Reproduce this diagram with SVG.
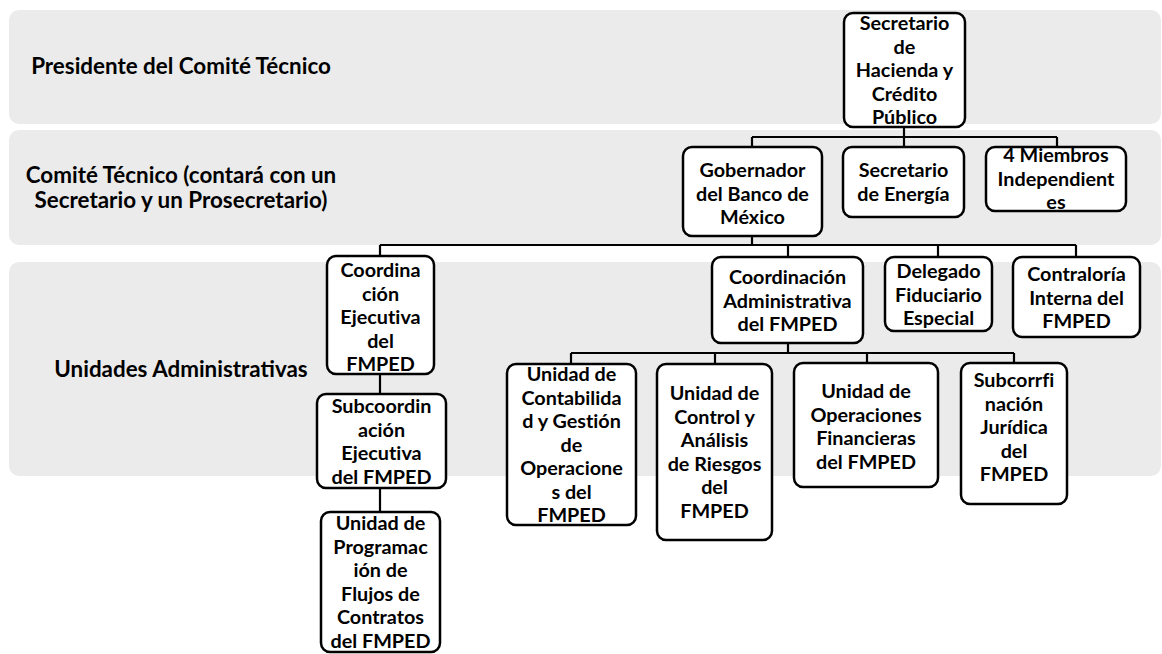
<svg xmlns="http://www.w3.org/2000/svg" width="1162" height="654" viewBox="0 0 1162 654">
<style>
.band{fill:#ebebeb;}
.box{fill:#fff;stroke:#000;stroke-width:2.5;}
.lbl{font-family:Lato,"Liberation Sans",sans-serif;font-weight:bold;font-size:22.4px;fill:#000;text-anchor:middle;}
.t{font-family:Lato,"Liberation Sans",sans-serif;font-weight:bold;font-size:19.8px;fill:#000;text-anchor:middle;font-variant-ligatures:none;}
.con{fill:none;stroke:#000;stroke-width:2.2;}
</style>
<rect width="1162" height="654" fill="#fff"/>
<g id="bands">
<rect class="band" x="9" y="10" width="1152" height="114" rx="10"/>
<rect class="band" x="9" y="130" width="1152" height="115" rx="10"/>
<rect class="band" x="9" y="262" width="1152" height="214" rx="10"/>
<text class="lbl" x="181" y="74">Presidente del Comité Técnico</text>
<text class="lbl" x="181" y="183">Comité Técnico (contará con un</text>
<text class="lbl" x="181" y="208">Secretario y un Prosecretario)</text>
<text class="lbl" x="181" y="377">Unidades Administrativas</text>
</g>
<g id="connectors">
<path class="con" d="M904 127V137M752 137H1057M752 137V147M904 137V147M1057 137V147"/>
<path class="con" d="M752 236V245M380 245H1076M380 245V256M788 245V257M938 245V257M1076 245V257"/>
<path class="con" d="M380 374V394M380 488V512"/>
<path class="con" d="M788 343V353M571 353H1014M571 353V364M715 353V364M867 353V363M1014 353V363"/>
</g>
<g id="hacienda"><rect class="box" x="844" y="13" width="121" height="114" rx="9"/>
<text class="t" x="904.5" y="30">Secretario<tspan x="904.5" dy="23.5">de</tspan><tspan x="904.5" dy="23.5">Hacienda y</tspan><tspan x="904.5" dy="23.5">Crédito</tspan><tspan x="904.5" dy="23.5">Público</tspan></text></g>
<g id="gobernador"><rect class="box" x="683" y="147" width="139" height="89" rx="9"/>
<text class="t" x="752.5" y="177">Gobernador<tspan x="752.5" dy="23.5">del Banco de</tspan><tspan x="752.5" dy="23.5">México</tspan></text></g>
<g id="energia"><rect class="box" x="843" y="147" width="121" height="70" rx="9"/>
<text class="t" x="903.5" y="177">Secretario<tspan x="903.5" dy="23.5">de Energía</tspan></text></g>
<g id="miembros"><rect class="box" x="986" y="147" width="140" height="64" rx="9"/>
<text class="t" x="1056" y="162">4 Miembros<tspan x="1056" dy="23.5">Independient</tspan><tspan x="1056" dy="23.5">es</tspan></text></g>
<g id="coordEjecutiva"><rect class="box" x="327" y="256" width="107" height="118" rx="9"/>
<text class="t" x="380.5" y="277">Coordina<tspan x="380.5" dy="23.5">ción</tspan><tspan x="380.5" dy="23.5">Ejecutiva</tspan><tspan x="380.5" dy="23.5">del</tspan><tspan x="380.5" dy="23.5">FMPED</tspan></text></g>
<g id="subcoordinacion"><rect class="box" x="317" y="394" width="129" height="94" rx="9"/>
<text class="t" x="381.5" y="413">Subcoordin<tspan x="381.5" dy="23.5">ación</tspan><tspan x="381.5" dy="23.5">Ejecutiva</tspan><tspan x="381.5" dy="23.5">del FMPED</tspan></text></g>
<g id="programacion"><rect class="box" x="321" y="512" width="119" height="140" rx="9"/>
<text class="t" x="380.5" y="530">Unidad de<tspan x="380.5" dy="23.5">Programac</tspan><tspan x="380.5" dy="23.5">ión de</tspan><tspan x="380.5" dy="23.5">Flujos de</tspan><tspan x="380.5" dy="23.5">Contratos</tspan><tspan x="380.5" dy="23.5">del FMPED</tspan></text></g>
<g id="coordAdministrativa"><rect class="box" x="712" y="257" width="151" height="86" rx="9"/>
<text class="t" x="787.5" y="284">Coordinación<tspan x="787.5" dy="23.5">Administrativa</tspan><tspan x="787.5" dy="23.5">del FMPED</tspan></text></g>
<g id="delegado"><rect class="box" x="885" y="257" width="107" height="74" rx="9"/>
<text class="t" x="938.5" y="278">Delegado<tspan x="938.5" dy="23.5">Fiduciario</tspan><tspan x="938.5" dy="23.5">Especial</tspan></text></g>
<g id="contraloria"><rect class="box" x="1013" y="257" width="127" height="80" rx="9"/>
<text class="t" x="1076.5" y="281">Contraloría<tspan x="1076.5" dy="23.5">Interna del</tspan><tspan x="1076.5" dy="23.5">FMPED</tspan></text></g>
<g id="contabilidad"><rect class="box" x="507" y="364" width="129" height="161" rx="9"/>
<text class="t" x="571.5" y="381">Unidad de<tspan x="571.5" dy="23.5">Contabilida</tspan><tspan x="571.5" dy="23.5">d y Gestión</tspan><tspan x="571.5" dy="23.5">de</tspan><tspan x="571.5" dy="23.5">Operacione</tspan><tspan x="571.5" dy="23.5">s del</tspan><tspan x="571.5" dy="23.5">FMPED</tspan></text></g>
<g id="controlRiesgos"><rect class="box" x="657" y="364" width="115" height="176" rx="9"/>
<text class="t" x="714.5" y="400">Unidad de<tspan x="714.5" dy="23.5">Control y</tspan><tspan x="714.5" dy="23.5">Análisis</tspan><tspan x="714.5" dy="23.5">de Riesgos</tspan><tspan x="714.5" dy="23.5">del</tspan><tspan x="714.5" dy="23.5">FMPED</tspan></text></g>
<g id="operacionesFinancieras"><rect class="box" x="794" y="363" width="144" height="124" rx="9"/>
<text class="t" x="866" y="398">Unidad de<tspan x="866" dy="23.5">Operaciones</tspan><tspan x="866" dy="23.5">Financieras</tspan><tspan x="866" dy="23.5">del FMPED</tspan></text></g>
<g id="subcorrfinacion"><rect class="box" x="961" y="363" width="106" height="141" rx="9"/>
<text class="t" x="1014" y="387">Subcorrfi<tspan x="1014" dy="23.5">nación</tspan><tspan x="1014" dy="23.5">Jurídica</tspan><tspan x="1014" dy="23.5">del</tspan><tspan x="1014" dy="23.5">FMPED</tspan></text></g>
</svg>
